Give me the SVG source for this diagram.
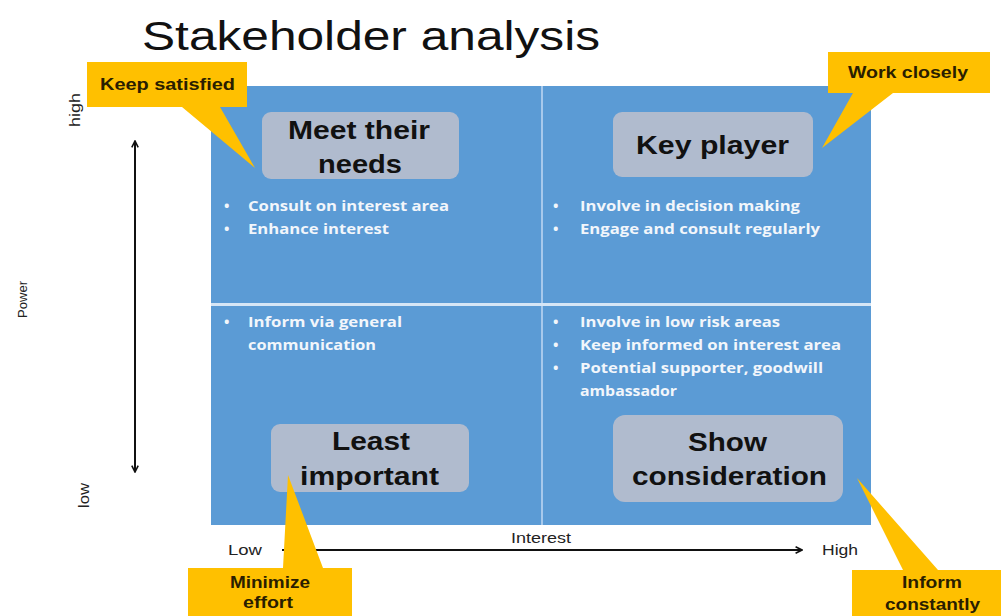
<svg xmlns="http://www.w3.org/2000/svg" width="1001" height="616" viewBox="0 0 1001 616">
<style>
.title{font-family:"Liberation Sans",Arial,sans-serif;font-size:41px;fill:#111}
.quad{fill:#5B9BD5}
.node rect{fill:#B0BBCE;stroke:none}
.ntext{font-family:"Liberation Sans",Arial,sans-serif;font-weight:bold;font-size:26px;fill:#111}
.bul{font-family:"Open Sans","Liberation Sans",sans-serif;font-weight:bold;font-size:14.5px;fill:#F2F6FB}
.call{fill:#FFC000}
.ctext{font-family:"Liberation Sans",Arial,sans-serif;font-weight:bold;font-size:16.5px;fill:#2A1E00}
.ax{font-family:"Liberation Sans",Arial,sans-serif;font-size:14px;fill:#222}
.axl{stroke:#111;stroke-width:2;fill:none}
</style>
<defs>
<marker id="ah" viewBox="0 0 10 10" refX="9" refY="5" markerWidth="8" markerHeight="8" orient="auto-start-reverse" markerUnits="userSpaceOnUse">
<path d="M1,1 L9,5 L1,9" fill="none" stroke="#111" stroke-width="2"/>
</marker>
</defs>
<rect width="1001" height="616" fill="#fff"/>
<text class="title" x="142" y="50" textLength="458" lengthAdjust="spacingAndGlyphs">Stakeholder analysis</text>

<g id="grid">
<rect class="quad" x="211" y="86" width="330" height="217"/>
<rect class="quad" x="543" y="86" width="328" height="217"/>
<rect class="quad" x="211" y="306" width="330" height="219"/>
<rect class="quad" x="543" y="306" width="328" height="219"/>
<line x1="542" y1="86" x2="542" y2="525" stroke="#A7C9EC" stroke-width="2"/>
<line x1="211" y1="304.5" x2="871" y2="304.5" stroke="#D6E6F6" stroke-width="3"/>
</g>

<g id="bullets" class="bul">
<text x="224" y="211">•</text><text x="248" y="211" textLength="201" lengthAdjust="spacingAndGlyphs">Consult on interest area</text>
<text x="224" y="234">•</text><text x="248" y="234" textLength="141" lengthAdjust="spacingAndGlyphs">Enhance interest</text>
<text x="553" y="211">•</text><text x="580" y="211" textLength="220" lengthAdjust="spacingAndGlyphs">Involve in decision making</text>
<text x="553" y="234">•</text><text x="580" y="234" textLength="240" lengthAdjust="spacingAndGlyphs">Engage and consult regularly</text>
<text x="224" y="327">•</text><text x="248" y="327" textLength="154" lengthAdjust="spacingAndGlyphs">Inform via general</text>
<text x="248" y="350" textLength="128" lengthAdjust="spacingAndGlyphs">communication</text>
<text x="553" y="327">•</text><text x="580" y="327" textLength="200" lengthAdjust="spacingAndGlyphs">Involve in low risk areas</text>
<text x="553" y="350">•</text><text x="580" y="350" textLength="261" lengthAdjust="spacingAndGlyphs">Keep informed on interest area</text>
<text x="553" y="373">•</text><text x="580" y="373" textLength="243" lengthAdjust="spacingAndGlyphs">Potential supporter, goodwill</text>
<text x="580" y="396" textLength="97" lengthAdjust="spacingAndGlyphs">ambassador</text>
</g>

<g id="node-meet" class="node">
<rect x="262" y="112" width="197" height="67" rx="9"/>
<text class="ntext" x="288" y="139" textLength="142" lengthAdjust="spacingAndGlyphs">Meet their</text>
<text class="ntext" x="318" y="173" textLength="84" lengthAdjust="spacingAndGlyphs">needs</text>
</g>
<g id="node-key" class="node">
<rect x="613" y="112" width="200" height="65" rx="9"/>
<text class="ntext" x="636" y="154" font-size="27" textLength="153" lengthAdjust="spacingAndGlyphs">Key player</text>
</g>
<g id="node-least" class="node">
<rect x="271" y="424" width="198" height="68" rx="9"/>
<text class="ntext" x="332" y="450" textLength="78" lengthAdjust="spacingAndGlyphs">Least</text>
<text class="ntext" x="300" y="485" textLength="139" lengthAdjust="spacingAndGlyphs">important</text>
</g>
<g id="node-show" class="node">
<rect x="613" y="415" width="230" height="87" rx="12"/>
<text class="ntext" x="688" y="451" textLength="79" lengthAdjust="spacingAndGlyphs">Show</text>
<text class="ntext" x="632" y="485" textLength="195" lengthAdjust="spacingAndGlyphs">consideration</text>
</g>

<g id="connectors">
<line class="axl" x1="135" y1="141" x2="135" y2="472" marker-start="url(#ah)" marker-end="url(#ah)"/>
<line class="axl" x1="282" y1="550" x2="802" y2="550" marker-end="url(#ah)"/>
</g>

<g id="axis-labels" class="ax">
<text x="0" y="0" transform="translate(80,127) rotate(-90)" textLength="34" lengthAdjust="spacingAndGlyphs">high</text>
<text x="0" y="0" transform="translate(89,508) rotate(-90)" textLength="25" lengthAdjust="spacingAndGlyphs">low</text>
<text x="0" y="0" transform="translate(27,318) rotate(-90)" font-size="13.5" textLength="37" lengthAdjust="spacingAndGlyphs">Power</text>
<text x="228" y="555" textLength="34" lengthAdjust="spacingAndGlyphs">Low</text>
<text x="822" y="555" textLength="36" lengthAdjust="spacingAndGlyphs">High</text>
<text x="511" y="543" textLength="60" lengthAdjust="spacingAndGlyphs">Interest</text>
</g>

<g id="callout-keep">
<path class="call" d="M87,62 H247 V107 H220 L255,168 L182,107 H87 Z"/>
<text class="ctext" x="100" y="90" textLength="135" lengthAdjust="spacingAndGlyphs">Keep satisfied</text>
</g>
<g id="callout-work">
<path class="call" d="M828,52 H990 V93 H893 L822,148 L853,93 H828 Z"/>
<text class="ctext" x="848" y="78" textLength="120" lengthAdjust="spacingAndGlyphs">Work closely</text>
</g>
<g id="callout-min">
<path class="call" d="M188,568 H283 L288,475 L323,568 H352 V616 H188 Z"/>
<text class="ctext" x="230" y="588" textLength="80" lengthAdjust="spacingAndGlyphs">Minimize</text>
<text class="ctext" x="243" y="608" textLength="50" lengthAdjust="spacingAndGlyphs">effort</text>
</g>
<g id="callout-inform">
<path class="call" d="M852,570 H903 L857,478 L938,570 H1001 V616 H852 Z"/>
<text class="ctext" x="902" y="588" textLength="60" lengthAdjust="spacingAndGlyphs">Inform</text>
<text class="ctext" x="885" y="610" textLength="95" lengthAdjust="spacingAndGlyphs">constantly</text>
</g>
</svg>
